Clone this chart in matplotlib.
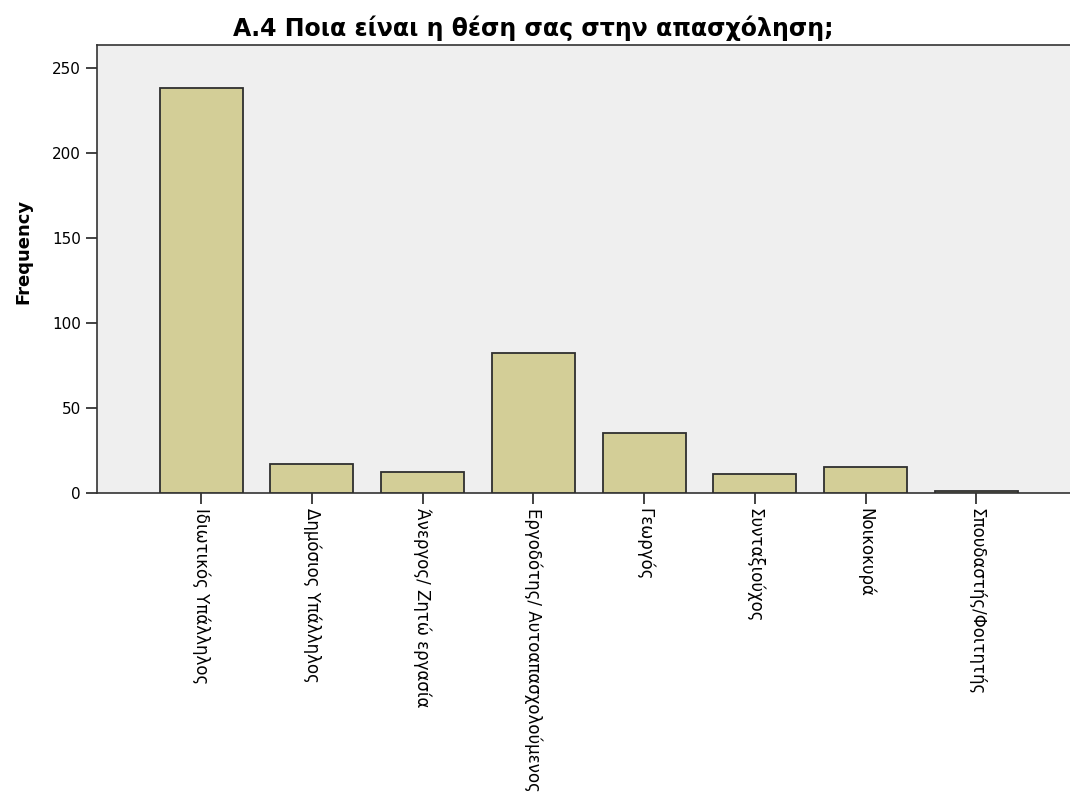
import matplotlib.pyplot as plt
import numpy as np

plt.rcParams['font.family'] = ['DejaVu Sans']

# categories and frequencies
categories = ['Ιδιωτικός Υπάλληλος', 'Δημόσιος Υπάλληλος', 'Άνεργος/ Ζητώ εργασία',
              'Εργοδότης/ Αυτοαπασχολούμενος', 'Γεωργός', 'Συνταξιούχος',
              'Νοικοκυρά', 'Σπουδαστής/Φοιτητής']
frequencies = [238, 17, 12, 82, 35, 11, 15, 1]
y_ticks = [0, 50, 100, 150, 200, 250]

fig = plt.figure(figsize=(10.7, 8), dpi=100)
ax = fig.add_axes([0.0907, 0.384, 0.915, 0.56])
ax.set_facecolor('#efefef')

x = np.arange(len(categories))
ax.bar(x, frequencies, width=0.75, color='#d3ce97', edgecolor='#2f2f2f', linewidth=1.3, zorder=3)

ax.set_xlim(-0.94, 7.9)
ax.set_ylim(0, 263.5)
ax.set_yticks(y_ticks)
ax.set_xticks(x)
ax.set_xticklabels(categories, rotation=-90, ha='center', va='top')
ax.tick_params(axis='both', direction='out', length=8, width=1.2, color='#222222', labelsize=11)
ax.tick_params(axis='x', labelsize=12, pad=3)

for side in ['left', 'top', 'bottom']:
    ax.spines[side].set_linewidth(1.2)
    ax.spines[side].set_color('#333333')
ax.spines['right'].set_visible(False)

ax.set_ylabel('Frequency', fontsize=13, fontweight='bold')
ax.yaxis.set_label_coords(-0.066, 0.538)
fig.text(0.498, 0.965, 'Α.4 Ποια είναι η θέση σας στην απασχόληση;', ha='center', va='center',
         fontsize=17, fontweight='bold')

plt.savefig('out.png', dpi=100)
